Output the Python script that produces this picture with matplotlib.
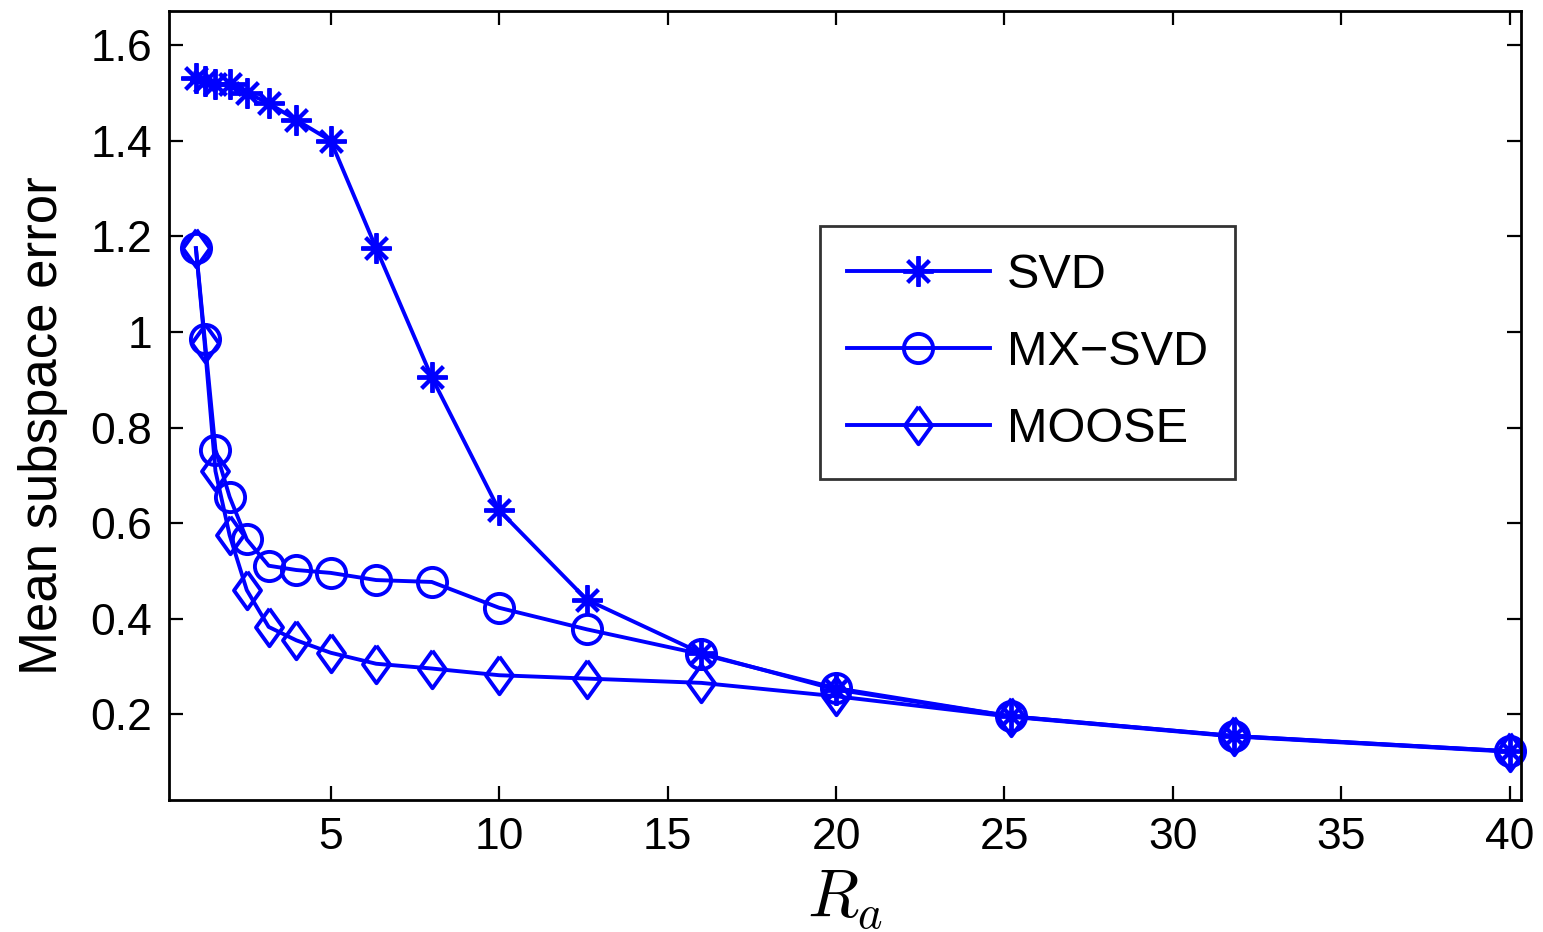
import matplotlib
matplotlib.use("Agg")
import matplotlib.pyplot as plt
import numpy as np

# R_a values
ra = [1.0, 1.26, 1.58, 2.0, 2.51, 3.16, 3.98, 5.0, 6.35, 8.0,
      10.0, 12.6, 16.0, 20.0, 25.2, 31.8, 40.0]

svd = [1.530, 1.524, 1.518, 1.518, 1.500, 1.478, 1.443, 1.400, 1.175, 0.905,
       0.627, 0.440, 0.328, 0.252, 0.196, 0.155, 0.123]
mx_svd = [1.175, 0.986, 0.754, 0.655, 0.566, 0.511, 0.502, 0.496, 0.481, 0.477,
          0.423, 0.378, 0.326, 0.255, 0.196, 0.155, 0.123]
moose = [1.175, 0.976, 0.709, 0.575, 0.460, 0.383, 0.355, 0.329, 0.306, 0.296,
         0.282, 0.275, 0.266, 0.238, 0.195, 0.154, 0.122]

plt.rcParams['font.family'] = ['Liberation Sans', 'DejaVu Sans']
plt.rcParams['mathtext.fontset'] = 'cm'

fig = plt.figure(figsize=(15.43, 9.32), dpi=100)
ax = fig.add_axes([0.1095, 0.1416, 0.8762, 0.8466])

blue = (0, 0, 1)
diamond = [(0, 1), (0.72, 0), (0, -1), (-0.72, 0), (0, 1)]
lw = 2.8

ax.plot(ra, svd, color=blue, lw=lw, marker=(8, 2, 0), ms=22, mew=lw,
        mfc='none', label='SVD', clip_on=False)
ax.plot(ra, mx_svd, color=blue, lw=lw, marker='o', ms=21, mew=lw,
        mfc='none', label='MX\u2212SVD', clip_on=False)
ax.plot(ra, moose, color=blue, lw=lw, marker=diamond, ms=27, mew=lw,
        mfc='none', label='MOOSE', clip_on=False)

ax.set_xlim(0.2, 40.33)
ax.set_ylim(0.021, 1.671)
ax.set_xticks([5, 10, 15, 20, 25, 30, 35, 40])
ax.set_yticks([0.2, 0.4, 0.6, 0.8, 1.0, 1.2, 1.4, 1.6])
ax.set_yticklabels(['0.2', '0.4', '0.6', '0.8', '1', '1.2', '1.4', '1.6'])

ax.tick_params(direction='in', length=10, width=1.6, top=True, right=True,
               labelsize=32, pad=12)
for s in ax.spines.values():
    s.set_linewidth(2)

ax.set_xlabel('$R_a$', fontsize=48, labelpad=8)
ax.set_ylabel('Mean subspace error', fontsize=38)
ax.yaxis.set_label_coords(-0.075, 0.475)

leg = ax.legend(loc='upper left', bbox_to_anchor=(0.4815, 0.7275),
                fontsize=35, frameon=True, fancybox=False, edgecolor='black',
                handlelength=2.95, handletextpad=0.35, labelspacing=0.66,
                borderpad=0.55, borderaxespad=0)
leg.get_frame().set_linewidth(2)

fig.savefig('out.png', dpi=100)
